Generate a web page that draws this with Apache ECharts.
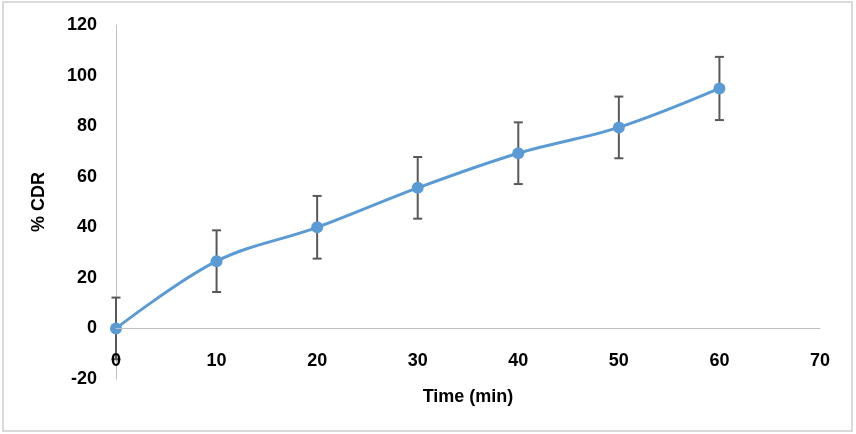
<!DOCTYPE html>
<html>
<head>
<meta charset="utf-8">
<script src="https://cdn.jsdelivr.net/npm/echarts@6/dist/echarts.min.js"></script>
<style>
html,body{margin:0;padding:0;background:#fff;}
#c{width:856px;height:434px;}
</style>
</head>
<body>
<div id="c"></div>
<script>
const times = [0, 10, 20, 30, 40, 50, 60];
const cdr = [0, 26.6, 40.0, 55.6, 69.3, 79.5, 94.9];
const errs = [12.2, 12.2, 12.4, 12.2, 12.2, 12.2, 12.5];

const chart = echarts.init(document.getElementById('c'));
const font = 'Liberation Sans, Arial, sans-serif';
const lineData = times.map((t, i) => [t, cdr[i]]);
const errData = times.map((t, i) => [t, cdr[i] - errs[i], cdr[i] + errs[i]]);

const yMin = -20, yMax = 120;
const gridTop = 25, gridBottom = 55;
const plotH = 434 - gridTop - gridBottom;
const zeroOffset = -plotH * (0 - yMin) / (yMax - yMin);

chart.setOption({
  animation: false,
  graphic: [{
    type: 'rect', shape: {x: 3, y: 2, width: 849, height: 429},
    style: {fill: 'none', stroke: '#d9d9d9', lineWidth: 2}, z: -1
  }],
  grid: {left: 116, right: 36, top: gridTop, bottom: gridBottom, containLabel: false, outerBoundsMode: 'none'},
  xAxis: {
    type: 'value', min: 0, max: 70, interval: 10, z: 10,
    position: 'bottom', offset: zeroOffset,
    name: 'Time (min)', nameLocation: 'middle', nameGap: 60,
    nameTextStyle: {fontFamily: font, fontWeight: 'bold', fontSize: 18, color: '#000'},
    axisLine: {onZero: false, lineStyle: {color: '#bfbfbf', width: 1}},
    axisTick: {show: false},
    splitLine: {show: false},
    axisLabel: {margin: 24, fontFamily: font, fontWeight: 'bold', fontSize: 18, color: '#000'}
  },
  yAxis: {
    type: 'value', min: yMin, max: yMax, interval: 20,
    name: '% CDR', nameLocation: 'middle', nameGap: 68, nameRotate: 90,
    nameTextStyle: {fontFamily: font, fontWeight: 'bold', fontSize: 18, color: '#000'},
    axisLine: {show: true, onZero: false, lineStyle: {color: '#bfbfbf', width: 1}},
    axisTick: {show: false},
    splitLine: {show: false},
    axisLabel: {margin: 19, fontFamily: font, fontWeight: 'bold', fontSize: 18, color: '#000'}
  },
  series: [{
    type: 'custom',
    data: errData,
    z: 3,
    renderItem: function (params, api) {
      const x = api.value(0);
      const lo = api.coord([x, api.value(1)]);
      const hi = api.coord([x, api.value(2)]);
      const w = 4.5;
      const st = {stroke: '#595959', lineWidth: 2};
      return {
        type: 'group',
        children: [
          {type: 'line', shape: {x1: lo[0], y1: lo[1], x2: hi[0], y2: hi[1]}, style: st},
          {type: 'line', shape: {x1: lo[0] - w, y1: lo[1], x2: lo[0] + w, y2: lo[1]}, style: st},
          {type: 'line', shape: {x1: hi[0] - w, y1: hi[1], x2: hi[0] + w, y2: hi[1]}, style: st}
        ]
      };
    }
  }, {
    type: 'line',
    data: lineData,
    smooth: 0.35,
    z: 4,
    symbol: 'circle',
    symbolSize: 12,
    lineStyle: {color: '#5B9BD5', width: 3},
    itemStyle: {color: '#5B9BD5'}
  }]
});
</script>
</body>
</html>
